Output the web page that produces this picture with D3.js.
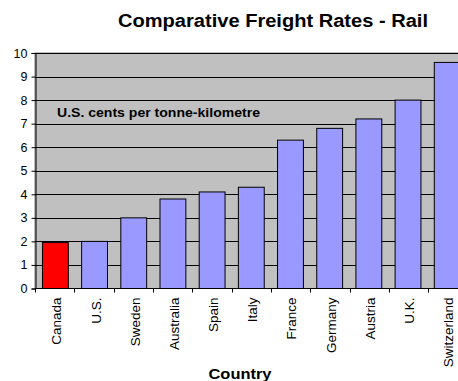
<!DOCTYPE html>
<html>
<head>
<meta charset="utf-8">
<script src="https://cdn.jsdelivr.net/npm/d3@7"></script>
<style>
  html, body { margin: 0; padding: 0; background: #fff; overflow: hidden; }
  svg { display: block; font-family: Arial, "Liberation Sans", sans-serif; }
</style>
</head>
<body>
<svg id="chart" width="458" height="381"></svg>
<script>
// Rail freight rates, U.S. cents per tonne-kilometre
const countries = ["Canada", "U.S.", "Sweden", "Australia", "Spain", "Italy",
                   "France", "Germany", "Austria", "U.K.", "Switzerland"];
const rates = [1.95, 2.0, 3.0, 3.8, 4.1, 4.3, 6.3, 6.8, 7.2, 8.0, 9.6];
const yTicks = [0, 1, 2, 3, 4, 5, 6, 7, 8, 9, 10];
const highlight = "Canada";

const svg = d3.select("#chart");
const plot = { left: 35, top: 53, right: 467.6, bottom: 288.5 };

const x = d3.scaleBand()
  .domain(countries)
  .range([plot.left, plot.right])
  .paddingInner(0.34)
  .paddingOuter(0.19);

const y = d3.scaleLinear().domain([0, 10]).range([plot.bottom, plot.top]);

// plot background
svg.append("rect")
  .attr("x", plot.left).attr("y", plot.top)
  .attr("width", plot.right - plot.left).attr("height", plot.bottom - plot.top)
  .attr("fill", "#c0c0c0").attr("stroke", "#808080");

// horizontal gridlines
svg.append("g").selectAll("line").data(yTicks.slice(1)).join("line")
  .attr("x1", plot.left).attr("x2", plot.right)
  .attr("y1", d => Math.round(y(d)) + 0.5).attr("y2", d => Math.round(y(d)) + 0.5)
  .attr("stroke", "#000").attr("stroke-width", 1);

// bars
svg.append("g").selectAll("rect").data(countries).join("rect")
  .attr("x", d => x(d))
  .attr("y", (d, i) => y(rates[i]))
  .attr("width", x.bandwidth())
  .attr("height", (d, i) => y(0) - y(rates[i]))
  .attr("fill", d => d === highlight ? "#ff0000" : "#9999ff")
  .attr("stroke", "#000").attr("stroke-width", 1);

// y axis
const yAxis = svg.append("g")
  .attr("transform", `translate(${plot.left + 0.5},0)`)
  .call(d3.axisLeft(y).tickValues(yTicks).tickSize(4).tickPadding(4).tickFormat(d3.format("d")));
yAxis.select(".domain").attr("stroke", "#000");
yAxis.selectAll("text").attr("font-size", 12.5).attr("fill", "#000").attr("font-family", "Arial, 'Liberation Sans', sans-serif");

// x axis baseline and tick marks at category boundaries
svg.append("line")
  .attr("x1", plot.left).attr("x2", plot.right)
  .attr("y1", plot.bottom).attr("y2", plot.bottom)
  .attr("stroke", "#000");
const bounds = d3.range(countries.length + 1).map(i => plot.left + i * (plot.right - plot.left) / countries.length);
svg.append("g").selectAll("line").data(bounds).join("line")
  .attr("x1", d => Math.round(d) + 0.5).attr("x2", d => Math.round(d) + 0.5)
  .attr("y1", plot.bottom).attr("y2", plot.bottom + 4)
  .attr("stroke", "#000");

// rotated category labels
svg.append("g").selectAll("text").data(countries).join("text")
  .attr("transform", d => `translate(${x(d) + x.bandwidth() / 2 + 6},${plot.bottom + 9}) rotate(-90)`)
  .attr("text-anchor", "end")
  .attr("font-size", 13.5)
  .text(d => d);

// title
svg.append("text")
  .attr("x", 273).attr("y", 27)
  .attr("text-anchor", "middle")
  .attr("font-size", 18).attr("font-weight", "bold")
  .attr("textLength", 310).attr("lengthAdjust", "spacingAndGlyphs")
  .text("Comparative Freight Rates - Rail");

// units note inside the plot
svg.append("text")
  .attr("x", 57).attr("y", 117)
  .attr("font-size", 12).attr("font-weight", "bold")
  .attr("textLength", 203).attr("lengthAdjust", "spacingAndGlyphs")
  .text("U.S. cents per tonne-kilometre");

// x axis title
svg.append("text")
  .attr("x", 240).attr("y", 379)
  .attr("text-anchor", "middle")
  .attr("font-size", 15).attr("font-weight", "bold")
  .attr("textLength", 63).attr("lengthAdjust", "spacingAndGlyphs")
  .text("Country");
</script>
</body>
</html>
